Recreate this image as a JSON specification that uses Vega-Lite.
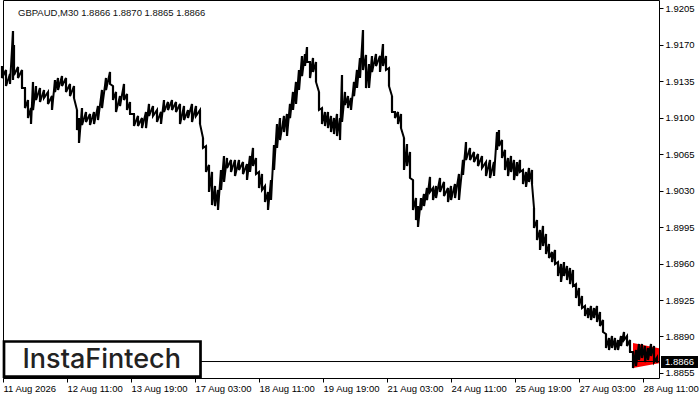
{
  "$schema": "https://vega.github.io/schema/vega-lite/v6.json",
  "width": 656,
  "height": 378,
  "padding": {"left": 3, "top": 0, "right": 41, "bottom": 22},
  "autosize": {"type": "none"},
  "background": "white",
  "config": {
    "view": {"stroke": "black", "strokeWidth": 1},
    "font": "Liberation Sans",
    "axis": {"labelOverlap": false, "labelBound": false, "labelFlush": false, "grid": false, "domain": false, "tickColor": "black", "labelColor": "black", "labelFont": "Liberation Sans", "labelFontSize": 9.5, "tickSize": 4, "title": null, "tickCount": 30}
  },
  "title": {"text": "GBPAUD,M30  1.8866 1.8870 1.8865 1.8866", "anchor": "start", "frame": "group", "orient": "top", "baseline": "top", "offset": -17, "dx": 15, "fontSize": 9.5, "font": "Liberation Sans", "fontWeight": "normal", "color": "#111111"},
  "datasets": {
    "bars": [
      {"b":2,"h":1.91494,"l":1.91379},{"b":6,"h":1.91456,"l":1.91302},{"b":10,"h":1.91417,"l":1.91321},{"b":13,"h":1.91830,"l":1.91360},{"b":14,"h":1.91695,"l":1.91408},{"b":18,"h":1.91485,"l":1.91379},{"b":22,"h":1.91456,"l":1.91283},{"b":25,"h":1.91283,"l":1.91091},{"b":28,"h":1.91168,"l":1.90995},{"b":31,"h":1.91091,"l":1.90938},{"b":33,"h":1.91341,"l":1.91072},{"b":36,"h":1.91302,"l":1.91168},{"b":40,"h":1.91283,"l":1.91149},{"b":44,"h":1.91264,"l":1.91187},{"b":48,"h":1.91245,"l":1.91130},{"b":52,"h":1.91206,"l":1.91072},{"b":55,"h":1.91360,"l":1.91245},{"b":58,"h":1.91379,"l":1.91264},{"b":62,"h":1.91398,"l":1.91302},{"b":66,"h":1.91379,"l":1.91245},{"b":70,"h":1.91321,"l":1.91206},{"b":74,"h":1.91302,"l":1.91187},{"b":77,"h":1.91072,"l":1.90880},{"b":79,"h":1.90995,"l":1.90756},{"b":82,"h":1.91091,"l":1.90928},{"b":86,"h":1.91053,"l":1.90957},{"b":90,"h":1.91034,"l":1.90928},{"b":94,"h":1.91053,"l":1.90938},{"b":98,"h":1.91110,"l":1.90976},{"b":102,"h":1.91264,"l":1.91091},{"b":106,"h":1.91379,"l":1.91264},{"b":110,"h":1.91437,"l":1.91321},{"b":113,"h":1.91302,"l":1.91168},{"b":116,"h":1.91245,"l":1.91053},{"b":120,"h":1.91206,"l":1.91110},{"b":124,"h":1.91321,"l":1.91168},{"b":127,"h":1.91226,"l":1.91072},{"b":130,"h":1.91149,"l":1.91034},{"b":134,"h":1.91034,"l":1.90919},{"b":138,"h":1.91015,"l":1.90919},{"b":142,"h":1.90995,"l":1.90899},{"b":146,"h":1.91053,"l":1.90899},{"b":149,"h":1.91130,"l":1.91015},{"b":153,"h":1.91110,"l":1.91015},{"b":157,"h":1.91072,"l":1.90957},{"b":161,"h":1.91053,"l":1.90938},{"b":164,"h":1.91168,"l":1.91053},{"b":168,"h":1.91149,"l":1.91072},{"b":172,"h":1.91168,"l":1.91072},{"b":176,"h":1.91149,"l":1.91053},{"b":180,"h":1.91130,"l":1.90938},{"b":184,"h":1.91110,"l":1.90976},{"b":188,"h":1.91072,"l":1.90995},{"b":192,"h":1.91130,"l":1.90957},{"b":196,"h":1.91110,"l":1.91015},{"b":200,"h":1.91072,"l":1.90938},{"b":203,"h":1.90804,"l":1.90708},{"b":206,"h":1.90727,"l":1.90478},{"b":209,"h":1.90545,"l":1.90286},{"b":212,"h":1.90478,"l":1.90161},{"b":215,"h":1.90343,"l":1.90151},{"b":218,"h":1.90305,"l":1.90113},{"b":221,"h":1.90497,"l":1.90305},{"b":224,"h":1.90631,"l":1.90382},{"b":227,"h":1.90612,"l":1.90516},{"b":231,"h":1.90593,"l":1.90478},{"b":235,"h":1.90593,"l":1.90439},{"b":239,"h":1.90593,"l":1.90497},{"b":243,"h":1.90573,"l":1.90458},{"b":247,"h":1.90554,"l":1.90401},{"b":250,"h":1.90631,"l":1.90478},{"b":253,"h":1.90708,"l":1.90535},{"b":256,"h":1.90612,"l":1.90458},{"b":259,"h":1.90478,"l":1.90324},{"b":262,"h":1.90458,"l":1.90305},{"b":265,"h":1.90343,"l":1.90190},{"b":268,"h":1.90286,"l":1.90113},{"b":271,"h":1.90401,"l":1.90209},{"b":274,"h":1.90736,"l":1.90497},{"b":277,"h":1.90938,"l":1.90708},{"b":280,"h":1.90995,"l":1.90784},{"b":284,"h":1.91015,"l":1.90861},{"b":287,"h":1.91034,"l":1.90823},{"b":290,"h":1.91130,"l":1.90995},{"b":293,"h":1.91245,"l":1.91072},{"b":296,"h":1.91341,"l":1.91130},{"b":299,"h":1.91456,"l":1.91264},{"b":302,"h":1.91590,"l":1.91398},{"b":305,"h":1.91609,"l":1.91494},{"b":307,"h":1.91676,"l":1.91532},{"b":310,"h":1.91532,"l":1.91379},{"b":313,"h":1.91571,"l":1.91437},{"b":316,"h":1.91532,"l":1.91341},{"b":319,"h":1.91245,"l":1.91072},{"b":322,"h":1.91091,"l":1.90938},{"b":325,"h":1.91053,"l":1.90919},{"b":328,"h":1.91053,"l":1.90899},{"b":331,"h":1.91015,"l":1.90861},{"b":334,"h":1.90995,"l":1.90842},{"b":337,"h":1.91034,"l":1.90823},{"b":340,"h":1.90995,"l":1.90784},{"b":342,"h":1.91408,"l":1.90957},{"b":345,"h":1.91245,"l":1.91120},{"b":348,"h":1.91206,"l":1.91091},{"b":351,"h":1.91187,"l":1.91072},{"b":354,"h":1.91341,"l":1.91206},{"b":357,"h":1.91456,"l":1.91283},{"b":360,"h":1.91571,"l":1.91379},{"b":363,"h":1.91839,"l":1.91456},{"b":366,"h":1.91600,"l":1.91283},{"b":369,"h":1.91513,"l":1.91283},{"b":372,"h":1.91590,"l":1.91437},{"b":376,"h":1.91609,"l":1.91494},{"b":380,"h":1.91590,"l":1.91437},{"b":383,"h":1.91705,"l":1.91494},{"b":386,"h":1.91590,"l":1.91456},{"b":389,"h":1.91475,"l":1.91302},{"b":392,"h":1.91206,"l":1.91053},{"b":395,"h":1.91053,"l":1.90995},{"b":398,"h":1.91053,"l":1.90938},{"b":401,"h":1.91034,"l":1.90899},{"b":404,"h":1.90804,"l":1.90497},{"b":407,"h":1.90746,"l":1.90535},{"b":410,"h":1.90669,"l":1.90420},{"b":413,"h":1.90401,"l":1.90113},{"b":416,"h":1.90228,"l":1.90017},{"b":418,"h":1.90151,"l":1.89950},{"b":421,"h":1.90228,"l":1.90113},{"b":424,"h":1.90267,"l":1.90151},{"b":427,"h":1.90324,"l":1.90209},{"b":430,"h":1.90430,"l":1.90286},{"b":433,"h":1.90324,"l":1.90209},{"b":436,"h":1.90343,"l":1.90228},{"b":440,"h":1.90420,"l":1.90286},{"b":444,"h":1.90382,"l":1.90247},{"b":448,"h":1.90324,"l":1.90190},{"b":451,"h":1.90343,"l":1.90209},{"b":455,"h":1.90362,"l":1.90228},{"b":459,"h":1.90458,"l":1.90209},{"b":463,"h":1.90593,"l":1.90449},{"b":466,"h":1.90765,"l":1.90593},{"b":470,"h":1.90708,"l":1.90593},{"b":474,"h":1.90669,"l":1.90573},{"b":478,"h":1.90650,"l":1.90535},{"b":482,"h":1.90631,"l":1.90516},{"b":486,"h":1.90573,"l":1.90439},{"b":490,"h":1.90593,"l":1.90420},{"b":494,"h":1.90573,"l":1.90439},{"b":497,"h":1.90861,"l":1.90689},{"b":499,"h":1.90880,"l":1.90727},{"b":502,"h":1.90784,"l":1.90612},{"b":505,"h":1.90689,"l":1.90497},{"b":508,"h":1.90612,"l":1.90439},{"b":511,"h":1.90631,"l":1.90478},{"b":514,"h":1.90593,"l":1.90401},{"b":517,"h":1.90573,"l":1.90439},{"b":520,"h":1.90593,"l":1.90478},{"b":523,"h":1.90497,"l":1.90362},{"b":526,"h":1.90478,"l":1.90334},{"b":529,"h":1.90516,"l":1.90382},{"b":532,"h":1.90497,"l":1.90362},{"b":534,"h":1.90132,"l":1.89941},{"b":537,"h":1.90017,"l":1.89825},{"b":540,"h":1.89921,"l":1.89730},{"b":543,"h":1.89960,"l":1.89768},{"b":546,"h":1.89883,"l":1.89691},{"b":549,"h":1.89787,"l":1.89653},{"b":552,"h":1.89710,"l":1.89614},{"b":555,"h":1.89730,"l":1.89595},{"b":558,"h":1.89614,"l":1.89480},{"b":561,"h":1.89595,"l":1.89423},{"b":564,"h":1.89614,"l":1.89480},{"b":567,"h":1.89576,"l":1.89442},{"b":570,"h":1.89557,"l":1.89403},{"b":573,"h":1.89538,"l":1.89384},{"b":576,"h":1.89403,"l":1.89269},{"b":579,"h":1.89365,"l":1.89193},{"b":582,"h":1.89288,"l":1.89173},{"b":585,"h":1.89193,"l":1.89097},{"b":588,"h":1.89173,"l":1.89077},{"b":591,"h":1.89193,"l":1.89058},{"b":594,"h":1.89173,"l":1.89077},{"b":597,"h":1.89193,"l":1.89039},{"b":600,"h":1.89135,"l":1.89001},{"b":603,"h":1.89058,"l":1.88943},{"b":606,"h":1.88924,"l":1.88790},{"b":609,"h":1.88886,"l":1.88771},{"b":612,"h":1.88905,"l":1.88790},{"b":615,"h":1.88886,"l":1.88771},{"b":618,"h":1.88866,"l":1.88771},{"b":621,"h":1.88905,"l":1.88809},{"b":624,"h":1.88943,"l":1.88866},{"b":627,"h":1.88905,"l":1.88809},{"b":630,"h":1.88866,"l":1.88751},{"b":633,"h":1.88751,"l":1.88598},{"b":636,"h":1.88771,"l":1.88617},{"b":639,"h":1.88828,"l":1.88675},{"b":642,"h":1.88828,"l":1.88694},{"b":645,"h":1.88809,"l":1.88655},{"b":648,"h":1.88790,"l":1.88675},{"b":651,"h":1.88828,"l":1.88713},{"b":654,"h":1.88809,"l":1.88655},{"b":657,"h":1.88700,"l":1.88650}
    ],
    "pattern": [
      {"b": 633, "top": 1.88838, "bot": 1.88598},
      {"b": 660, "top": 1.88785, "bot": 1.88646}
    ],
    "last": [{"price": 1.8866, "label": "1.8866"}],
    "logo": [{"name": "InstaFintech"}]
  },
  "layer": [
    {
      "data": {"name": "pattern"},
      "mark": {"type": "area", "color": "#ff0000", "clip": true},
      "encoding": {
        "x": {"field": "b", "type": "quantitative", "scale": {"domain": [3, 659], "nice": false, "zero": false},
          "axis": {"values": [3, 67, 131, 195, 259, 323, 387, 451, 515, 579, 643], "tickCount": 30, "labelExpr": "['11 Aug 2026','12 Aug 11:00','13 Aug 19:00','17 Aug 03:00','18 Aug 11:00','19 Aug 19:00','21 Aug 03:00','24 Aug 11:00','25 Aug 19:00','27 Aug 03:00','28 Aug 11:00'][round((datum.value-3)/64)]", "labelAlign": "left", "labelDx": 1, "labelBaseline": "top", "labelPadding": 1}},
        "y": {"field": "top", "type": "quantitative", "scale": {"domain": [1.88502, 1.92127], "nice": false, "zero": false},
          "axis": {"orient": "right", "tickCount": 30, "values": [1.8855, 1.889, 1.8925, 1.896, 1.8995, 1.903, 1.9065, 1.91, 1.9135, 1.917, 1.9205], "format": ".4f", "labelPadding": 2}},
        "y2": {"field": "bot"}
      }
    },
    {
      "data": {"name": "bars"},
      "transform": [
        {"fold": ["h", "l"], "as": ["kind", "price"]},
        {"window": [{"op": "row_number", "as": "seq"}], "sort": [{"field": "b"}, {"field": "kind"}]}
      ],
      "mark": {"type": "line", "color": "black", "strokeWidth": 2, "strokeJoin": "miter"},
      "encoding": {
        "x": {"field": "b", "type": "quantitative"},
        "y": {"field": "price", "type": "quantitative"},
        "order": {"field": "seq", "type": "quantitative"}
      }
    },
    {
      "data": {"name": "bars"},
      "mark": {"type": "rule", "color": "black", "strokeWidth": 2.2},
      "encoding": {
        "x": {"field": "b", "type": "quantitative"},
        "y": {"field": "h", "type": "quantitative"},
        "y2": {"field": "l"}
      }
    },
    {
      "data": {"name": "last"},
      "mark": {"type": "rule", "color": "black", "strokeWidth": 1},
      "encoding": {"y": {"field": "price", "type": "quantitative"}}
    },
    {
      "data": {"name": "logo"},
      "mark": {"type": "rect", "fill": "white", "stroke": "black", "strokeWidth": 2.7},
      "encoding": {
        "x": {"datum": 4},
        "x2": {"datum": 200.5},
        "y": {"datum": 1.88852},
        "y2": {"datum": 1.88515}
      }
    },
    {
      "data": {"name": "logo"},
      "mark": {"type": "text", "font": "Inter", "fontSize": 27, "fontWeight": 500, "color": "#222222", "align": "center", "baseline": "alphabetic"},
      "encoding": {
        "x": {"datum": 101.7},
        "y": {"datum": 1.88595},
        "text": {"field": "name"}
      }
    },
    {
      "data": {"name": "last"},
      "mark": {"type": "rect", "fill": "black"},
      "encoding": {
        "x": {"datum": 661},
        "x2": {"datum": 698},
        "y": {"datum": 1.88713},
        "y2": {"datum": 1.88598}
      }
    },
    {
      "data": {"name": "last"},
      "mark": {"type": "text", "color": "white", "font": "Liberation Sans", "fontSize": 9.5, "align": "left", "baseline": "middle"},
      "encoding": {
        "x": {"datum": 665},
        "y": {"field": "price", "type": "quantitative"},
        "text": {"field": "label"}
      }
    }
  ]
}
